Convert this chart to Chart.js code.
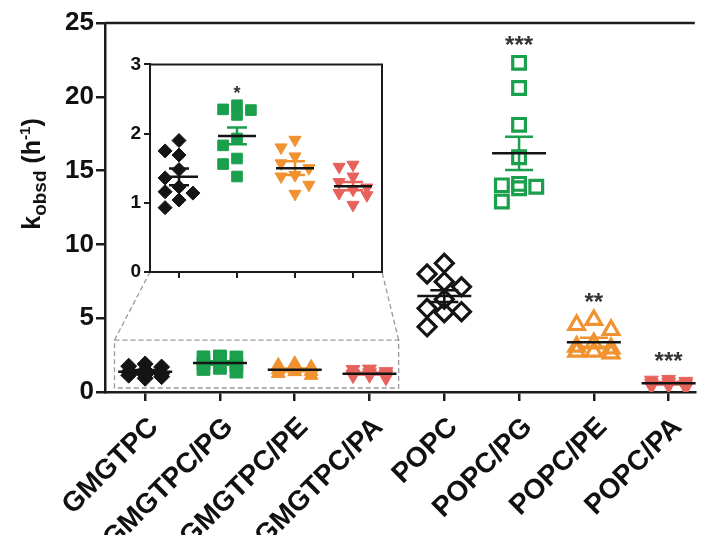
<!DOCTYPE html>
<html>
<head>
<meta charset="utf-8">
<script src="https://cdn.jsdelivr.net/npm/chart.js@4.4.1/dist/chart.umd.min.js"></script>
<style>
  html, body { margin: 0; padding: 0; background: #fff; }
  #wrap { position: relative; width: 707px; height: 535px; overflow: hidden; }
  #mainChart { position: absolute; left: 0; top: 0; }
  #insetChart { position: absolute; left: 100px; top: 50px; }
</style>
</head>
<body>
<div id="wrap">
  <canvas id="mainChart" width="707" height="535"></canvas>
  <canvas id="insetChart" width="300" height="240"></canvas>
</div>
<script>
// categories on the x axis
const categories = ["GMGTPC", "GMGTPC/PG", "GMGTPC/PE", "GMGTPC/PA", "POPC", "POPC/PG", "POPC/PE", "POPC/PA"];

// individual k_obsd values (h^-1)
const gmgtpc   = [1.90, 1.75, 1.69, 1.48, 1.36, 1.23, 1.16, 1.14, 1.04, 0.93];
const gmgtpcPG = [2.41, 2.35, 2.34, 2.27, 1.93, 1.83, 1.64, 1.56, 1.38];
const gmgtpcPE = [1.91, 1.80, 1.67, 1.57, 1.50, 1.40, 1.38, 1.26, 1.13];
const gmgtpcPA = [1.55, 1.52, 1.38, 1.30, 1.22, 1.19, 1.14, 1.11, 0.97];
const popc     = [8.72, 8.00, 7.47, 7.13, 6.28, 5.67, 5.44, 5.37, 4.42];
const popcPG   = [22.3, 20.6, 18.1, 15.9, 14.1, 14.0, 13.9, 13.8, 12.9];
const popcPE   = [4.88, 4.54, 4.20, 3.30, 3.07, 2.96, 2.73, 2.73, 2.62];
const popcPA   = [0.85, 0.80, 0.72, 0.65, 0.60, 0.55, 0.45, 0.40, 0.30];

// mean and SEM
const groupMeans = [1.375, 1.967, 1.50, 1.24, 6.50, 16.17, 3.37, 0.59];
const groupSems  = [0.12, 0.12, 0.10, 0.06, 0.40, 1.13, 0.30, 0.08];

// significance marks
const mainStars  = ["", "", "", "", "", "***", "**", "***"];
const insetStars = ["", "*", "", ""];

// y ticks
const mainYTicks  = [0, 5, 10, 15, 20, 25];
const insetYTicks = [0, 1, 2, 3];

const allGroups = [gmgtpc, gmgtpcPG, gmgtpcPE, gmgtpcPA, popc, popcPG, popcPE, popcPA];

const BLACK = "#141414";
const GREEN = "#1a9f4c";
const ORANGE = "#f0922f";
const RED = "#e8625c";
const groupColors = [BLACK, GREEN, ORANGE, RED, BLACK, GREEN, ORANGE, RED];
const FONT = "'Liberation Sans', Arial, sans-serif";

// column scatter spreading (like prism): push points sideways when they collide
function swarm(values, gap, step) {
  const placed = [];
  const minDist = s => {
    let d = Infinity;
    placed.forEach(p => { if (Math.abs(p.s - s) < 0.6) d = Math.min(d, Math.abs(p.v - vNow)); });
    return d;
  };
  let vNow = 0;
  return values.map(function(v) {
    vNow = v;
    let slot = null;
    for (const s of [0, -1, 1]) {
      if (minDist(s) >= gap) { slot = s; break; }
    }
    if (slot === null) {
      let best = -1;
      for (const s of [0.5, -0.5, 0, -1, 1]) {
        const d = minDist(s);
        if (d > best) { best = d; slot = s; }
      }
    }
    placed.push({ s: slot, v: v });
    return slot * step;
  });
}

function makeDataset(values, index, style, gap, step) {
  const offs = swarm(values, gap, step);
  return {
    data: values.map((v, k) => ({ x: index + offs[k], y: v })),
    pointStyle: style.shape,
    rotation: style.rotation || 0,
    pointRadius: style.radius,
    pointBackgroundColor: style.open ? "rgba(0,0,0,0)" : groupColors[index],
    pointBorderColor: groupColors[index],
    pointBorderWidth: style.open ? 3.2 : 1,
    showLine: false
  };
}

const mainStyles = [
  { shape: "rectRot", radius: 8 },
  { shape: "rect", radius: 9 },
  { shape: "triangle", radius: 8 },
  { shape: "triangle", radius: 8, rotation: 180 },
  { shape: "rectRot", radius: 9, open: true },
  { shape: "rect", radius: 9, open: true },
  { shape: "triangle", radius: 9, open: true },
  { shape: "triangle", radius: 8, rotation: 180 }
];
const insetStyles = [
  { shape: "rectRot", radius: 7 },
  { shape: "rect", radius: 7.5 },
  { shape: "triangle", radius: 7, rotation: 180 },
  { shape: "triangle", radius: 7, rotation: 180 }
];

const mainDatasets = allGroups.map(function(vals, i) {
  if (i < 4) return makeDataset(vals, i, mainStyles[i], 0.6, 0.22);
  return makeDataset(vals, i, mainStyles[i], 1.0, 0.23);
});
const insetDatasets = allGroups.slice(0, 4).map(function(vals, i) {
  return makeDataset(vals, i, insetStyles[i], 0.17, 0.24);
});

// mean line + SEM whiskers, and stars
function statsPlugin(nGroups, stars, meanHalf, semHalf, starFont, starGap) {
  return {
    id: "stats",
    afterDatasetsDraw(chart) {
      const ctx = chart.ctx;
      const xs = chart.scales.x;
      const ys = chart.scales.y;
      ctx.save();
      for (let i = 0; i < nGroups; i++) {
        const cx = xs.getPixelForValue(i);
        const m = ys.getPixelForValue(groupMeans[i]);
        const hi = ys.getPixelForValue(groupMeans[i] + groupSems[i]);
        const lo = ys.getPixelForValue(groupMeans[i] - groupSems[i]);
        ctx.lineWidth = 2.5;
        ctx.strokeStyle = groupColors[i];
        ctx.beginPath();
        ctx.moveTo(cx, hi); ctx.lineTo(cx, lo);
        ctx.moveTo(cx - semHalf, hi); ctx.lineTo(cx + semHalf, hi);
        ctx.moveTo(cx - semHalf, lo); ctx.lineTo(cx + semHalf, lo);
        ctx.stroke();
        ctx.strokeStyle = BLACK;
        ctx.beginPath();
        ctx.moveTo(cx - meanHalf, m); ctx.lineTo(cx + meanHalf, m);
        ctx.stroke();
        if (stars[i]) {
          const top = ys.getPixelForValue(Math.max(...allGroups[i]));
          ctx.fillStyle = "#333";
          ctx.font = "bold " + starFont + "px " + FONT;
          ctx.textAlign = "center";
          ctx.textBaseline = "alphabetic";
          ctx.fillText(stars[i], cx, top - starGap);
        }
      }
      ctx.restore();
    }
  };
}

function fixedTicks(list) {
  return function(scale) { scale.ticks = list.map(v => ({ value: v })); };
}

const axisColor = "#1c1c1c";

const insetChart = new Chart(document.getElementById("insetChart"), {
  type: "scatter",
  data: { datasets: insetDatasets },
  options: {
    responsive: false,
    animation: false,
    devicePixelRatio: 1,
    layout: { padding: { top: 14, right: 18, left: 0, bottom: 0 } },
    plugins: { legend: { display: false }, tooltip: { enabled: false } },
    scales: {
      x: {
        type: "linear", min: -0.5, max: 3.5,
        afterBuildTicks: fixedTicks([0, 1, 2, 3]),
        afterFit: function(s) { s.height = 18; },
        grid: { drawOnChartArea: false, tickLength: 6, lineWidth: 2, color: axisColor },
        border: { width: 2, color: axisColor },
        ticks: { display: false }
      },
      y: {
        min: 0, max: 3,
        afterBuildTicks: fixedTicks(insetYTicks),
        afterFit: function(s) { s.width = 50; },
        grid: { drawOnChartArea: false, tickLength: 6, lineWidth: 2, color: axisColor },
        border: { width: 2, color: axisColor },
        ticks: { color: "#111", padding: 3, font: { family: FONT, size: 19, weight: "bold" } }
      }
    }
  },
  plugins: [
    statsPlugin(4, insetStars, 19, 10, 18, 6),
    {
      id: "insetFrame",
      afterDraw(chart) {
        const a = chart.chartArea;
        const ctx = chart.ctx;
        ctx.save();
        ctx.strokeStyle = axisColor;
        ctx.lineWidth = 2;
        ctx.beginPath();
        ctx.moveTo(a.left, a.top); ctx.lineTo(a.right, a.top); ctx.lineTo(a.right, a.bottom);
        ctx.stroke();
        ctx.restore();
      }
    }
  ]
});

// zoom box drawn on the main chart, in data units
const zoomBox = { x0: -0.41, x1: 3.39, y0: 0.27, y1: 3.52 };

const mainChart = new Chart(document.getElementById("mainChart"), {
  type: "scatter",
  data: { datasets: mainDatasets },
  options: {
    responsive: false,
    animation: false,
    devicePixelRatio: 1,
    layout: { padding: { top: 23, right: 0, left: 0, bottom: 0 } },
    plugins: { legend: { display: false }, tooltip: { enabled: false } },
    scales: {
      x: {
        type: "linear", min: -0.537, max: 7.35,
        afterBuildTicks: fixedTicks(categories.map((c, i) => i)),
        afterFit: function(s) { s.height = 143; },
        grid: { drawOnChartArea: false, tickLength: 9, lineWidth: 2.5, color: axisColor },
        border: { width: 2.5, color: axisColor },
        ticks: {
          autoSkip: false, minRotation: 45, maxRotation: 45, padding: 10, labelOffset: 9,
          color: "#111",
          font: { family: FONT, size: 28, weight: "bold" },
          callback: function(v) { return categories[v]; }
        }
      },
      y: {
        min: 0, max: 25,
        afterBuildTicks: fixedTicks(mainYTicks),
        afterFit: function(s) { s.width = 105; },
        grid: { drawOnChartArea: false, tickLength: 9, lineWidth: 2.5, color: axisColor },
        border: { width: 2.5, color: axisColor },
        ticks: { color: "#111", padding: 2, font: { family: FONT, size: 26, weight: "bold" } }
      }
    }
  },
  plugins: [
    {
      id: "decor",
      beforeDatasetsDraw(chart) {
        const ctx = chart.ctx;
        const xs = chart.scales.x, ys = chart.scales.y;
        const a = chart.chartArea;
        ctx.save();
        // top frame line
        ctx.strokeStyle = axisColor;
        ctx.lineWidth = 2.5;
        ctx.beginPath();
        ctx.moveTo(a.left, a.top); ctx.lineTo(a.right, a.top);
        ctx.stroke();
        // dashed zoom box and leader lines to the inset
        const L = xs.getPixelForValue(zoomBox.x0), R = xs.getPixelForValue(zoomBox.x1);
        const T = ys.getPixelForValue(zoomBox.y1), B = ys.getPixelForValue(zoomBox.y0);
        const ia = insetChart.chartArea;
        const ox = 100, oy = 50;
        ctx.strokeStyle = "#9a9a9a";
        ctx.lineWidth = 1.3;
        ctx.setLineDash([5, 3]);
        ctx.strokeRect(L, T, R - L, B - T);
        ctx.beginPath();
        ctx.moveTo(L, T); ctx.lineTo(ia.left + ox, ia.bottom + oy);
        ctx.moveTo(R, T); ctx.lineTo(ia.right + ox, ia.bottom + oy);
        ctx.stroke();
        ctx.restore();
      }
    },
    statsPlugin(8, mainStars, 27, 14, 24, 10),
    {
      id: "yTitle",
      afterDraw(chart) {
        const ctx = chart.ctx;
        const parts = [
          { t: "k", size: 25, dy: 0 },
          { t: "obsd", size: 19, dy: 6 },
          { t: " (h", size: 25, dy: 0 },
          { t: "-1", size: 15, dy: -10 },
          { t: ")", size: 25, dy: 0 }
        ];
        ctx.save();
        let total = 0;
        parts.forEach(p => {
          ctx.font = "bold " + p.size + "px " + FONT;
          p.w = ctx.measureText(p.t).width;
          total += p.w;
        });
        ctx.translate(40, 174);
        ctx.rotate(-Math.PI / 2);
        ctx.fillStyle = "#111";
        ctx.textBaseline = "alphabetic";
        ctx.textAlign = "left";
        let x = -total / 2;
        parts.forEach(p => {
          ctx.font = "bold " + p.size + "px " + FONT;
          ctx.fillText(p.t, x, p.dy);
          x += p.w;
        });
        ctx.restore();
      }
    }
  ]
});
</script>
</body>
</html>
